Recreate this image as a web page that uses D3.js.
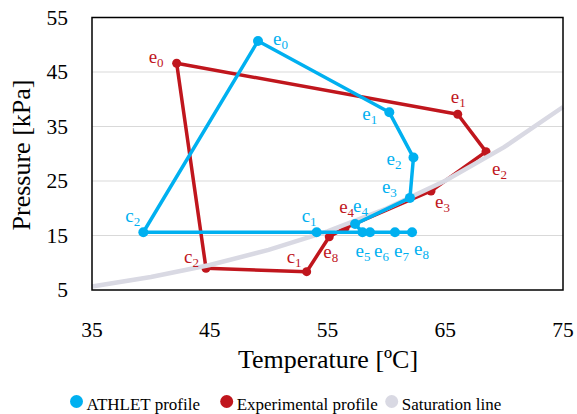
<!DOCTYPE html>
<html>
<head>
<meta charset="utf-8">
<script src="https://cdn.jsdelivr.net/npm/d3@7/dist/d3.min.js"></script>
<style>
  body { margin: 0; background: #fff; }
  text { font-family: "Liberation Serif", "Times New Roman", serif; }
</style>
</head>
<body>
<div id="chart"></div>
<script>
// ATHLET profile (blue)
var athlet_labels = ['e0','e1','e2','e3','e4','e5','e6','e7','e8','c1','c2'];
var athlet_temp   = [49.1, 60.25, 62.3, 62.0, 57.34, 57.97, 58.61, 60.73, 62.18, 54.08, 39.36];
var athlet_press  = [50.7, 37.6, 29.3, 21.9, 17.1, 15.6, 15.6, 15.6, 15.6, 15.6, 15.6];

// Experimental profile (red)
var exp_labels = ['e0','e1','e2','e3','e4','e8','c1','c2'];
var exp_temp   = [42.19, 66.06, 68.46, 63.79, 56.5, 55.15, 53.23, 44.68];
var exp_press  = [46.6, 37.24, 30.38, 23.17, 16.4, 14.78, 8.36, 8.98];

// Saturation line
var sat_temp  = [35, 40, 45, 50, 55, 60, 65, 70, 75];
var sat_press = [5.63, 7.38, 9.59, 12.35, 15.76, 19.95, 25.04, 31.2, 38.58];

var x_ticks = [35, 45, 55, 65, 75];
var y_ticks = [5, 15, 25, 35, 45, 55];

var blue = '#00B0F0', red = '#C0161D', grey = '#D9D9E3';

var chart_width  = 577;
var chart_height = 414;
var svg = d3.select('#chart')
    .append('svg')
    .attr('width', chart_width)
    .attr('height', chart_height);

var x_scale = d3.scaleLinear().domain([35, 75]).range([92, 563]);
var y_scale = d3.scaleLinear().domain([5, 55]).range([290, 17.5]);

// grid lines
svg.selectAll('.grid')
    .data(y_ticks.slice(1, -1))
    .enter()
    .append('line')
    .attr('x1', x_scale(35)).attr('x2', x_scale(75))
    .attr('y1', function(d){ return y_scale(d); })
    .attr('y2', function(d){ return y_scale(d); })
    .attr('stroke', '#D9D9D9')
    .attr('stroke-width', 1.2);

// tick labels
svg.selectAll('.ytick')
    .data(y_ticks)
    .enter()
    .append('text')
    .attr('x', 68)
    .attr('y', function(d){ return y_scale(d) + 7; })
    .attr('text-anchor', 'end')
    .attr('font-size', 21.5)
    .attr('fill', '#000')
    .text(function(d){ return d; });

svg.selectAll('.xtick')
    .data(x_ticks)
    .enter()
    .append('text')
    .attr('x', function(d){ return x_scale(d); })
    .attr('y', 337)
    .attr('text-anchor', 'middle')
    .attr('font-size', 21.5)
    .attr('fill', '#000')
    .text(function(d){ return d; });

// axis titles
svg.append('text')
    .attr('x', 328).attr('y', 368)
    .attr('text-anchor', 'middle')
    .attr('font-size', 26)
    .text('Temperature [ºC]');

svg.append('text')
    .attr('transform', 'translate(30,155) rotate(-90)')
    .attr('text-anchor', 'middle')
    .attr('font-size', 26)
    .text('Pressure [kPa]');

var line = d3.line()
    .x(function(d){ return x_scale(d.t); })
    .y(function(d){ return y_scale(d.p); });

function zip(labels, t, p){
    return t.map(function(v, i){ return { name: labels ? labels[i] : '', t: v, p: p[i] }; });
}

var athlet = zip(athlet_labels, athlet_temp, athlet_press);
var exper  = zip(exp_labels, exp_temp, exp_press);
var sat    = zip(null, sat_temp, sat_press);

var plot = svg.append('g');

// experimental (closed loop)
plot.append('path')
    .attr('d', line(exper.concat([exper[0]])))
    .attr('fill', 'none')
    .attr('stroke', red)
    .attr('stroke-width', 3.5)
    .attr('stroke-linejoin', 'round');
plot.selectAll('.rdot')
    .data(exper)
    .enter()
    .append('circle')
    .attr('cx', function(d){ return x_scale(d.t); })
    .attr('cy', function(d){ return y_scale(d.p); })
    .attr('r', 4.5)
    .attr('fill', red);

// saturation line
plot.append('path')
    .attr('d', line(sat))
    .attr('fill', 'none')
    .attr('stroke', grey)
    .attr('stroke-width', 4.5);

// athlet (closed loop)
plot.append('path')
    .attr('d', line(athlet.concat([athlet[0]])))
    .attr('fill', 'none')
    .attr('stroke', blue)
    .attr('stroke-width', 3.5)
    .attr('stroke-linejoin', 'round');
plot.selectAll('.bdot')
    .data(athlet)
    .enter()
    .append('circle')
    .attr('cx', function(d){ return x_scale(d.t); })
    .attr('cy', function(d){ return y_scale(d.p); })
    .attr('r', 5)
    .attr('fill', blue);

// frame
svg.append('rect')
    .attr('x', x_scale(35)).attr('y', y_scale(55))
    .attr('width', x_scale(75) - x_scale(35))
    .attr('height', y_scale(5) - y_scale(55))
    .attr('fill', 'none')
    .attr('stroke', '#000')
    .attr('stroke-width', 1.5);

// point labels, offsets in pixels from the marker
var athlet_off = {
    e0: [15, 4], e1: [-27, 8], e2: [-27, 7], e3: [-28, -5], e4: [-2, -12],
    e5: [-7, 25], e6: [4, 25], e7: [-1, 25], e8: [2, 23], c1: [-15, -10], c2: [-18, -10]
};
var exp_off = {
    e0: [-28, 0], e1: [-7, -11], e2: [6, 23], e3: [4, 17], e4: [-6, -15],
    e8: [-6, 21], c1: [-20, -9], c2: [-22, -5]
};

function addLabels(data, offs, color){
    var t = svg.selectAll(null)
        .data(data)
        .enter()
        .append('text')
        .attr('x', function(d){ return x_scale(d.t) + offs[d.name][0]; })
        .attr('y', function(d){ return y_scale(d.p) + offs[d.name][1]; })
        .attr('font-size', 19)
        .attr('fill', color);
    t.append('tspan').text(function(d){ return d.name[0]; });
    t.append('tspan')
        .attr('dy', 4)
        .attr('font-size', 13)
        .text(function(d){ return d.name.slice(1); });
}
addLabels(athlet, athlet_off, blue);
addLabels(exper, exp_off, red);

// legend
var legend = [
    { label: 'ATHLET profile', color: blue, x: 76.5 },
    { label: 'Experimental profile', color: red, x: 226.7 },
    { label: 'Saturation line', color: grey, x: 391.7 }
];
var lg = svg.selectAll('.legend')
    .data(legend)
    .enter()
    .append('g');
lg.append('circle')
    .attr('cx', function(d){ return d.x; })
    .attr('cy', 401.5)
    .attr('r', 6.5)
    .attr('fill', function(d){ return d.color; });
lg.append('text')
    .attr('x', function(d){ return d.x + 10; })
    .attr('y', 410)
    .attr('font-size', 17)
    .attr('fill', '#000')
    .text(function(d){ return d.label; });
</script>
</body>
</html>
